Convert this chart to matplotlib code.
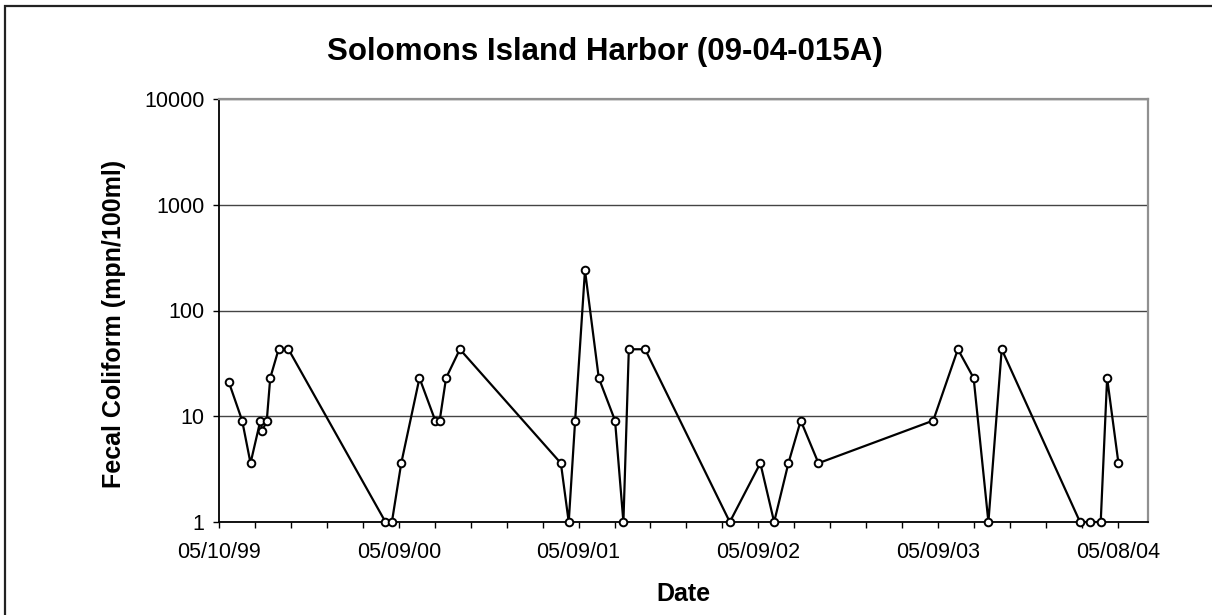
import matplotlib
matplotlib.use("Agg")
import matplotlib.pyplot as plt
import matplotlib.dates as mdates
from matplotlib.patches import Rectangle
from matplotlib.ticker import FixedLocator, NullLocator, FuncFormatter
import numpy as np
import datetime as dt

plt.rcParams['font.family'] = ['Liberation Sans', 'DejaVu Sans']

# sample dates and fecal coliform values
sample_dates = [
    "1999-05-30", "1999-06-26", "1999-07-13", "1999-08-02", "1999-08-06",
    "1999-08-15", "1999-08-22", "1999-09-08", "1999-09-28",
    "2000-04-12", "2000-04-25", "2000-05-14", "2000-06-20", "2000-07-22",
    "2000-07-31", "2000-08-13", "2000-09-10",
    "2001-04-03", "2001-04-19", "2001-05-02", "2001-05-22", "2001-06-19",
    "2001-07-22", "2001-08-08", "2001-08-19", "2001-09-21",
    "2002-03-12", "2002-05-13", "2002-06-10", "2002-07-09", "2002-08-03",
    "2002-09-08",
    "2003-04-29", "2003-06-18", "2003-07-20", "2003-08-19", "2003-09-15",
    "2004-02-21", "2004-03-13", "2004-04-03", "2004-04-16", "2004-05-09",
]
coliform = [
    21, 9.1, 3.6, 9.1, 7.3,
    9.1, 23, 43, 43,
    1, 1, 3.6, 23, 9.1,
    9.1, 23, 43,
    3.6, 1, 9.1, 240, 23,
    9.1, 1, 43, 43,
    1, 3.6, 1, 3.6, 9.1,
    3.6,
    9.1, 43, 23, 1, 43,
    1, 1, 1, 23, 3.6,
]
y_ticks = [1, 10, 100, 1000, 10000]

axis_start = dt.date(1999, 5, 10)
axis_days = 1886


def main():
    dates = [dt.datetime.strptime(s, "%Y-%m-%d") for s in sample_dates]
    x = mdates.date2num(dates)

    fig = plt.figure(figsize=(12.12, 6.15), dpi=100)
    ax = fig.add_axes([219 / 1212, 1 - 522 / 615, (1148 - 219) / 1212, (522 - 99) / 615])

    ax.plot(x, coliform, color="black", lw=1.6, marker="o", ms=5.5,
            mfc="white", mec="black", mew=1.4, zorder=3, clip_on=False)

    ax.set_yscale("log")
    ax.set_ylim(1, 10000)
    ax.yaxis.set_major_locator(FixedLocator(y_ticks))
    ax.yaxis.set_minor_locator(NullLocator())
    ax.yaxis.set_major_formatter(FuncFormatter(lambda v, p: f"{v:.0f}"))

    x0 = mdates.date2num(axis_start)
    ax.set_xlim(x0, x0 + axis_days)
    ax.xaxis.set_major_locator(FixedLocator([x0 + 365 * k for k in range(6)]))
    ax.xaxis.set_minor_locator(FixedLocator([x0 + 73 * k for k in range(26)]))
    ax.xaxis.set_major_formatter(mdates.DateFormatter("%m/%d/%y"))

    ax.tick_params(axis="both", which="both", direction="out", length=4.3,
                   width=1, color="black", labelsize=15.5, pad=6)
    ax.tick_params(axis="x", pad=10)

    ax.grid(axis="y", which="major", color="#444444", lw=1)
    ax.set_axisbelow(True)

    ax.spines["left"].set_color("black")
    ax.spines["bottom"].set_color("black")
    ax.spines["left"].set_linewidth(1.3)
    ax.spines["bottom"].set_linewidth(1.3)
    ax.spines["top"].set_color("#909090")
    ax.spines["right"].set_color("#909090")
    ax.spines["top"].set_linewidth(1.6)
    ax.spines["right"].set_linewidth(1.6)

    ax.set_xlabel("Date", fontsize=18, fontweight="bold", labelpad=14)
    ax.set_ylabel("Fecal Coliform (mpn/100ml)", fontsize=18, fontweight="bold")
    ax.yaxis.set_label_coords(-0.100, 0.468)
    fig.text(605 / 1212, 1 - 52 / 615, "Solomons Island Harbor (09-04-015A)",
             ha="center", va="center", fontsize=22.5, fontweight="bold")

    # outer chart frame
    fig.patches.append(Rectangle((5 / 1212, -0.2), 2, 1.2 - 5.5 / 615,
                                 transform=fig.transFigure, fill=False,
                                 edgecolor="#222222", lw=1.6))

    plt.savefig("out.png", dpi=100)


if __name__ == "__main__":
    main()
